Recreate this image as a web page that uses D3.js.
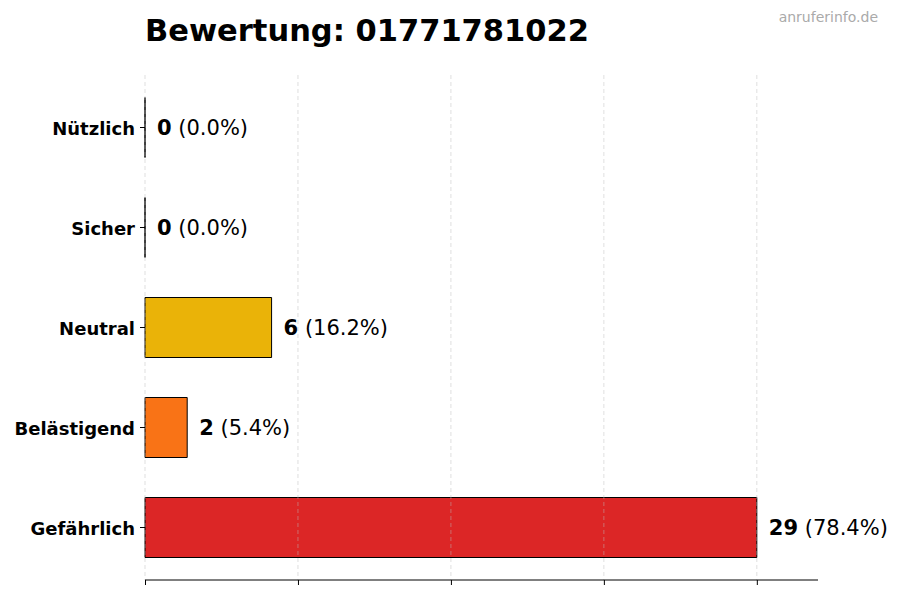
<!DOCTYPE html>
<html>
<head>
  <meta charset="utf-8">
  <title>Bewertung</title>
  <script src="https://d3js.org/d3.v7.min.js"></script>
  <style>
    body { margin: 0; background: #fff; }
    text { font-family: "DejaVu Sans", sans-serif; }
  </style>
</head>
<body>
  <script>
    // Daten
    const categories = ['Nützlich', 'Sicher', 'Neutral', 'Belästigend', 'Gefährlich'];
    const counts = [0, 0, 6, 2, 29];
    const colors = ['#16a34a', '#22c55e', '#eab308', '#f97316', '#dc2626'];
    const xTicks = [0, 7.25, 14.5, 21.75, 29];
    const title = 'Bewertung: 01771781022';

    const width = 900;
    const height = 600;
    const total = d3.sum(counts);

    const svg = d3.select('body')
      .append('svg')
      .attr('width', width)
      .attr('height', height);

    const x = d3.scaleLinear()
      .domain([0, d3.max(counts) * 1.1])
      .range([145, 818]);

    const y = d3.scaleBand()
      .domain(categories)
      .range([75, 580])
      .paddingInner(0.4)
      .paddingOuter(0.225);

    // Balken als path, damit auch 0-Balken ihre Kante zeigen
    svg.selectAll('path.bar')
      .data(counts)
      .enter()
      .append('path')
      .attr('class', 'bar')
      .attr('d', (d, i) => {
        const x0 = x(0), y0 = y(categories[i]), w = x(d) - x(0), h = y.bandwidth();
        return `M${x0},${y0}h${w}v${h}h${-w}Z`;
      })
      .attr('fill', (d, i) => colors[i])
      .attr('stroke', '#000')
      .attr('stroke-width', 1);

    // Gitterlinien (über den Balken, wie im Original)
    svg.selectAll('line.grid')
      .data(xTicks)
      .enter()
      .append('line')
      .attr('class', 'grid')
      .attr('x1', d => x(d))
      .attr('x2', d => x(d))
      .attr('y1', 75)
      .attr('y2', 580)
      .attr('stroke', '#bbb')
      .attr('stroke-opacity', 0.6)
      .attr('stroke-dasharray', '4,3')
      .attr('stroke-width', 0.8);

    // x-Achse ohne Beschriftung
    const xAxis = d3.axisBottom(x)
      .tickValues(xTicks)
      .tickSize(5)
      .tickFormat('');
    svg.append('g')
      .attr('transform', 'translate(0,580)')
      .call(xAxis)
      .call(g => g.select('.domain').attr('d', `M${x.range()[0]},0H${x.range()[1]}`));

    // y-Achse: nur Ticks und Beschriftung
    const yAxis = d3.axisLeft(y).tickSize(5).tickPadding(5);
    svg.append('g')
      .attr('transform', `translate(${x(0)},0)`)
      .call(yAxis)
      .call(g => g.select('.domain').remove())
      .call(g => g.selectAll('text')
        .attr('font-size', 18)
        .attr('font-weight', 'bold')
        .attr('font-family', 'DejaVu Sans')
        .attr('dy', '0.4em')
        .attr('fill', '#000'));

    // Werte-Beschriftung
    const labels = svg.selectAll('text.val')
      .data(counts)
      .enter()
      .append('text')
      .attr('class', 'val')
      .attr('x', d => x(d) + 12)
      .attr('y', (d, i) => y(categories[i]) + y.bandwidth() / 2)
      .attr('dy', '0.35em')
      .attr('font-size', 21);
    labels.append('tspan')
      .attr('font-weight', 'bold')
      .text(d => d);
    labels.append('tspan')
      .text(d => ' (' + (d / total * 100).toFixed(1) + '%)');

    // Titel
    svg.append('text')
      .attr('x', 145)
      .attr('y', 41)
      .attr('font-size', 30.5)
      .attr('font-weight', 'bold')
      .text(title);

    // Wasserzeichen
    svg.append('text')
      .attr('x', 878)
      .attr('y', 22)
      .attr('text-anchor', 'end')
      .attr('font-size', 14)
      .attr('fill', '#aaa')
      .text('anruferinfo.de');
  </script>
</body>
</html>
